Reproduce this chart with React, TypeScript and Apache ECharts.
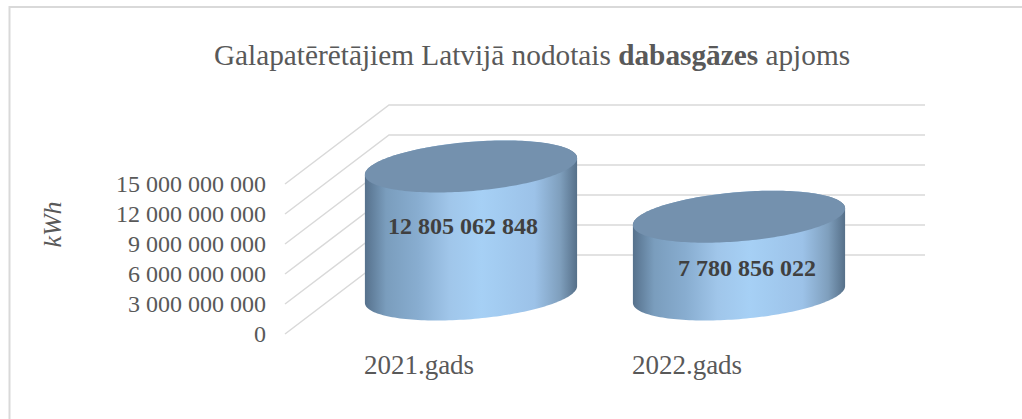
import React, { useEffect, useRef } from "react";
import * as echarts from "echarts";

const titleParts = ["Galapatērētājiem Latvijā nodotais ", "dabasgāzes", " apjoms"];
const categories = ["2021.gads", "2022.gads"];
const values = [12805062848, 7780856022];
const tickValues = [0, 3000000000, 6000000000, 9000000000, 12000000000, 15000000000];
const axisTitle = "kWh";

const FONT = '"Liberation Serif", "Times New Roman", serif';
const TEXT = "#595959";
const GRID = "#d9d9d9";
const DEPTH_X = 104;
const DEPTH_Y = 79;
const RADIUS_X = 100.5;
const ELL_SKEW = 34;
const ELL_H = 26;
const labelShifts = [[-8, -4], [8, 12]];

const fmt = (v: number) => String(Math.round(v)).replace(/\B(?=(\d{3})+(?!\d))/g, " ");

function ellipsePt(cx: number, cy: number, t: number) {
  return [cx + RADIUS_X * Math.cos(t) + ELL_SKEW * Math.sin(t), cy - ELL_H * Math.sin(t)];
}

function renderWall(params: any, api: any) {
  const cs = params.coordSys;
  const y = api.coord([0, api.value(1)])[1];
  return {
    type: "polyline",
    silent: true,
    shape: {
      points: [
        [cs.x, y],
        [cs.x + DEPTH_X, y - DEPTH_Y],
        [cs.x + cs.width + DEPTH_X, y - DEPTH_Y],
      ],
    },
    style: { stroke: GRID, lineWidth: 1.5, fill: "none" },
  };
}

function renderCylinder(params: any, api: any) {
  const idx = api.value(0);
  const val = api.value(1);
  const top = api.coord([idx, val]);
  const base = api.coord([idx, 0]);
  const cx = top[0] + DEPTH_X / 2;
  const topY = top[1] - DEPTH_Y / 2;
  const baseY = base[1] - DEPTH_Y / 2;
  const tExtreme = Math.atan2(ELL_SKEW, RADIUS_X);
  const N = 90;
  const body: number[][] = [];
  for (let i = 0; i <= N; i++) {
    const t = tExtreme + (Math.PI * i) / N;
    body.push(ellipsePt(cx, topY, t));
  }
  for (let i = 0; i <= N; i++) {
    const t = tExtreme + Math.PI + (Math.PI * i) / N;
    body.push(ellipsePt(cx, baseY, t));
  }
  const cap: number[][] = [];
  for (let i = 0; i < 2 * N; i++) {
    cap.push(ellipsePt(cx, topY, (Math.PI * i) / N));
  }
  const shift = labelShifts[params.dataIndex];
  return {
    type: "group",
    children: [
      {
        type: "polygon",
        shape: { points: body },
        style: {
          fill: new echarts.graphic.LinearGradient(0, 0, 1, 0, [
            { offset: 0, color: "#56718c" },
            { offset: 0.1, color: "#7a9dbd" },
            { offset: 0.25, color: "#88add0" },
            { offset: 0.4, color: "#a0c6ea" },
            { offset: 0.55, color: "#a6d0f5" },
            { offset: 0.8, color: "#9cc2e8" },
            { offset: 0.92, color: "#7f9fbd" },
            { offset: 1, color: "#567089" },
          ]),
        },
      },
      { type: "polygon", shape: { points: cap }, style: { fill: "#7491ae" } },
      {
        type: "text",
        style: {
          text: fmt(val),
          x: cx + shift[0],
          y: (topY + baseY) / 2 + shift[1],
          align: "center",
          verticalAlign: "middle",
          font: `bold 24px ${FONT}`,
          fill: "#404040",
        },
      },
    ],
  };
}

export default function App() {
  const ref = useRef<HTMLDivElement>(null);
  useEffect(() => {
    document.body.style.margin = "0";
    const chart = echarts.init(ref.current!, null, { renderer: "svg" });
    chart.setOption({
      animation: false,
      backgroundColor: "#ffffff",
      title: {
        left: 527,
        top: 35,
        textAlign: "center",
        text: `{n|${titleParts[0]}}{b|${titleParts[1]}}{n|${titleParts[2]}}`,
        textStyle: {
          fontWeight: "normal",
          rich: {
            n: { fontFamily: FONT, fontSize: 29.3, fontWeight: "normal", color: TEXT },
            b: { fontFamily: FONT, fontSize: 29.3, fontWeight: "bold", color: TEXT },
          },
        },
      },
      grid: { left: 285, right: 201, top: 184, bottom: 85 },
      xAxis: {
        type: "category",
        data: categories,
        axisLine: { show: false },
        axisTick: { show: false },
        axisLabel: { fontFamily: FONT, fontSize: 27, color: TEXT, margin: 17 },
      },
      yAxis: {
        type: "value",
        min: 0,
        max: 15000000000,
        interval: 3000000000,
        axisLine: { show: false },
        axisTick: { show: false },
        splitLine: { show: false },
        axisLabel: { fontFamily: FONT, fontSize: 24, color: TEXT, margin: 19, formatter: fmt },
      },
      graphic: [
        {
          type: "rect",
          silent: true,
          z: -1,
          shape: { x: 9.5, y: 7, width: 1200, height: 600 },
          style: { fill: "none", stroke: GRID, lineWidth: 2 },
        },
        {
          type: "text",
          silent: true,
          x: 52,
          y: 224.5,
          rotation: Math.PI / 2,
          style: {
            text: axisTitle,
            align: "center",
            verticalAlign: "middle",
            font: `italic 26px ${FONT}`,
            fill: TEXT,
          },
        },
      ],
      series: [
        {
          type: "custom",
          name: "walls",
          silent: true,
          renderItem: renderWall,
          encode: { x: 0, y: 1 },
          data: tickValues.map((v) => [0, v]),
          z: 1,
        },
        {
          type: "custom",
          name: "cylinders",
          silent: true,
          renderItem: renderCylinder,
          encode: { x: 0, y: 1 },
          data: values.map((v, i) => [i, v]),
          z: 2,
        },
      ],
    });
    return () => chart.dispose();
  }, []);
  return <div ref={ref} style={{ position: "absolute", left: 0, top: 0, width: 1022, height: 419 }} />;
}
